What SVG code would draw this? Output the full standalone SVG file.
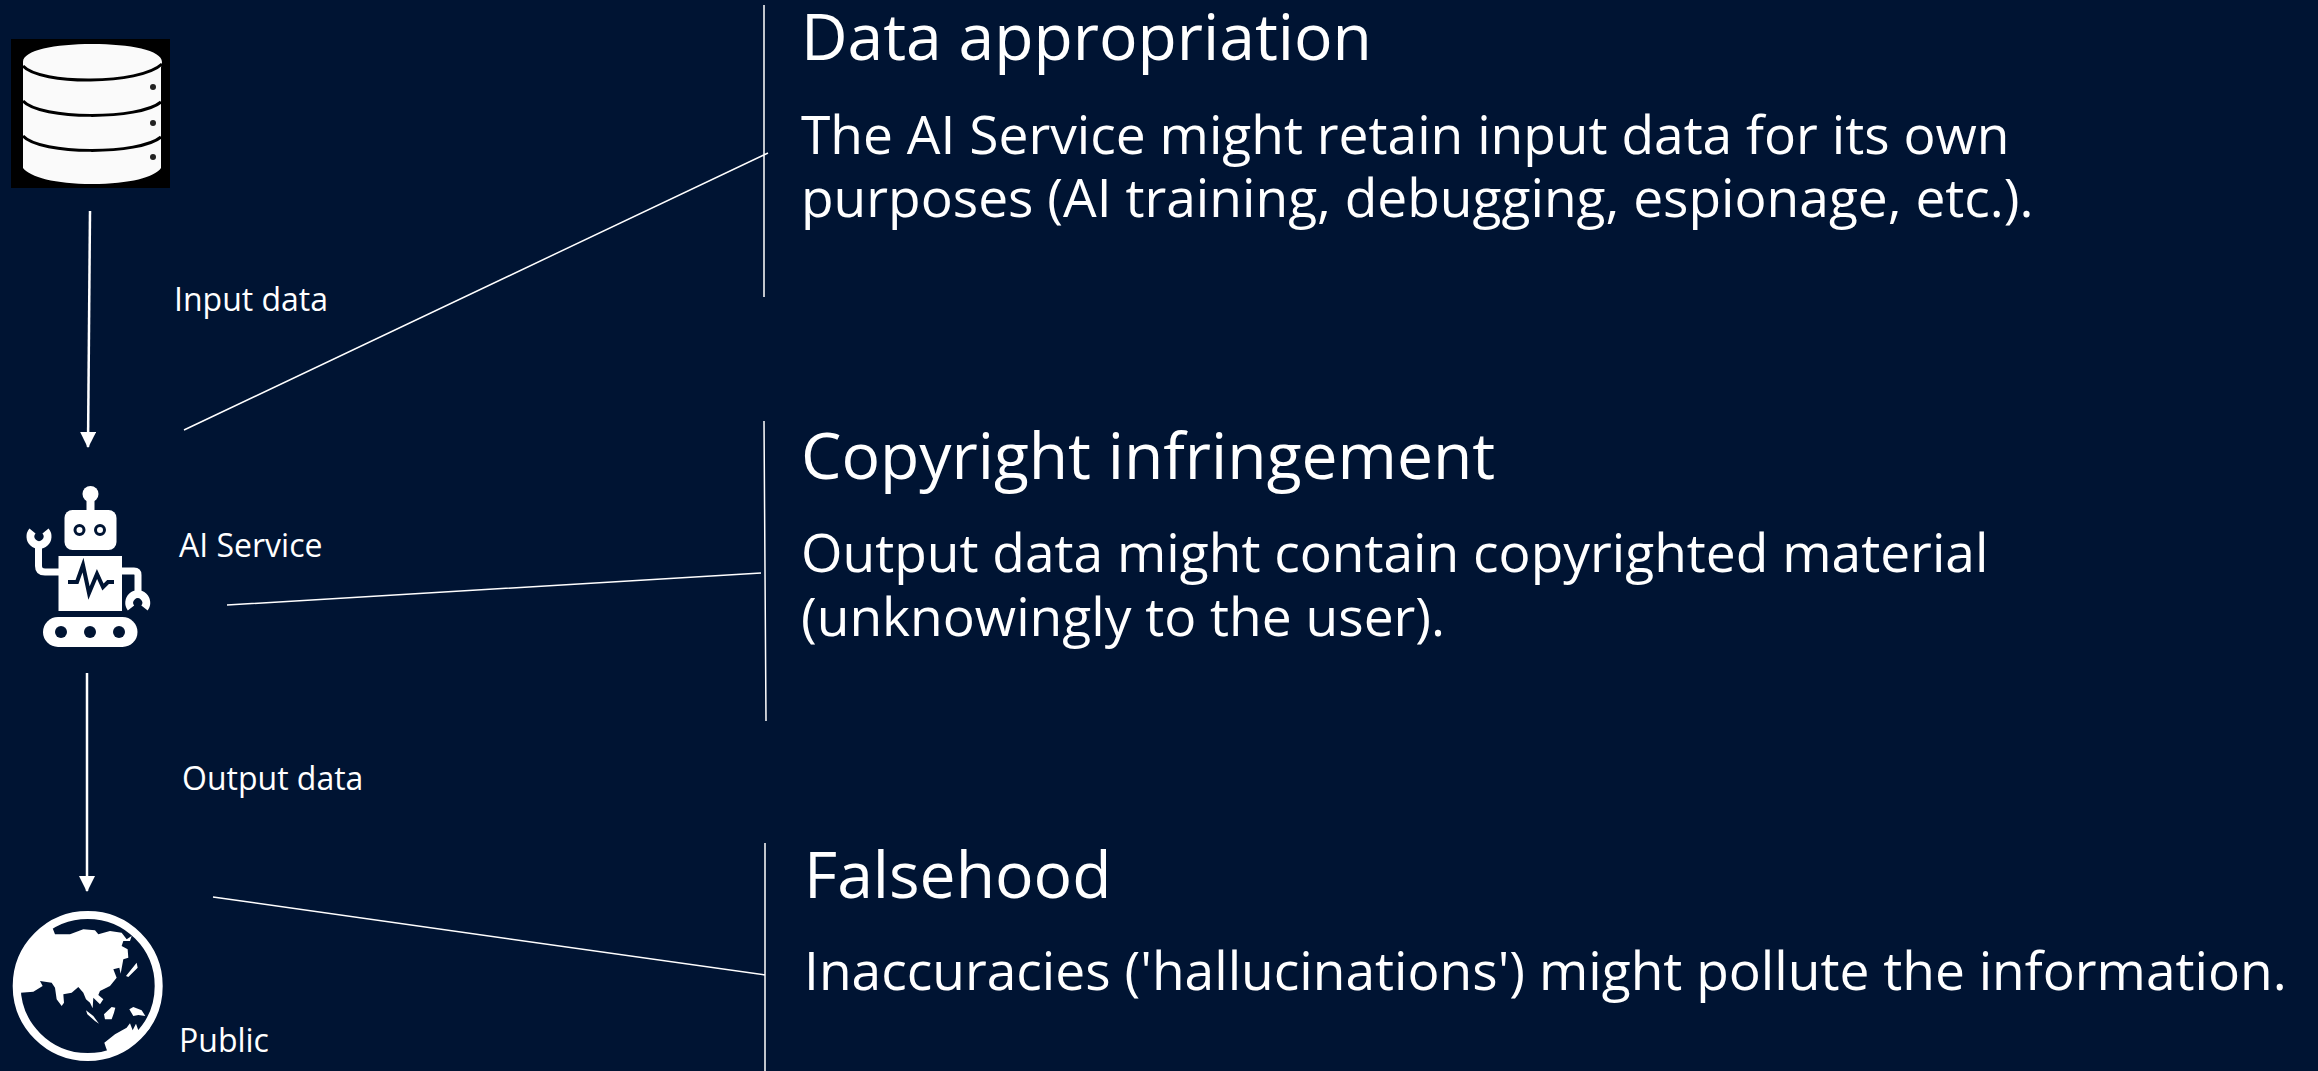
<svg xmlns="http://www.w3.org/2000/svg" width="2318" height="1071" viewBox="0 0 2318 1071">
<style>
text{font-family:"Open Sans","Noto Sans",sans-serif;fill:#fff}
.h{font-size:64.200px}
.b{font-size:53.300px}
.l{font-size:32px}
.c{stroke:#fff;stroke-width:1.500;fill:none}
.a{stroke:#fff;stroke-width:2.500;fill:none}
</style>
<defs><marker id="ah" markerUnits="userSpaceOnUse" markerWidth="16" markerHeight="16" refX="15" refY="8" orient="auto"><path d="M0 0L16 8L0 16Z" fill="#fff"/></marker></defs>
<rect width="2318" height="1071" fill="#001433"/>
<g id="database">
<rect x="11" y="39" width="159" height="149" fill="#000"/>
<path d="M23 62C23 50 55 44 92 44C130 44 162 50 162 62C162 64 161 66 161 68V168C155 177 130 184 92 184C55 184 30 177 23 168V68C23 66 23 64 23 62Z" fill="#fafafa"/>
<path d="M23 66C40 85 140 85 162 64M23 101C40 120 140 120 161 102M23 136C40 155 140 155 161 137" fill="none" stroke="#000" stroke-width="3"/>
<circle cx="153" cy="87" r="3" fill="#222"/><circle cx="153" cy="123" r="3" fill="#222"/><circle cx="153" cy="157" r="3" fill="#222"/>
</g>
<g id="robot" fill="#fff">
<circle cx="90.500" cy="494" r="8"/><rect x="86.500" y="498" width="8" height="14"/>
<rect x="64.500" y="510" width="52" height="40" rx="8"/>
<circle cx="79.500" cy="530" r="4.500" fill="none" stroke="#001433" stroke-width="3"/><circle cx="100" cy="530" r="4.500" fill="none" stroke="#001433" stroke-width="3"/>
<rect x="58.500" y="556" width="63.500" height="55"/>
<path d="M68 582H77L83 565 89 593 97 574 103 587 108 582H114" fill="none" stroke="#001433" stroke-width="4"/>
<path d="M38.500 543V566Q38.500 572 45 572H59" fill="none" stroke="#fff" stroke-width="7"/>
<path d="M121 571H134Q138 571 138 575V596" fill="none" stroke="#fff" stroke-width="7"/>
<path d="M32.500 531A8.500 8.500 0 1 0 45.500 531" fill="none" stroke="#fff" stroke-width="8"/>
<path d="M131 608A8.500 8.500 0 1 1 144.500 608" fill="none" stroke="#fff" stroke-width="8"/>
<rect x="43" y="617" width="94.500" height="30" rx="15"/>
<circle cx="61" cy="632" r="6" fill="#001433"/><circle cx="90" cy="632" r="6" fill="#001433"/><circle cx="119" cy="632" r="6" fill="#001433"/>
</g>
<g id="globe">
<circle cx="87.700" cy="986" r="71" fill="none" stroke="#fff" stroke-width="8"/>
<g transform="translate(0 871) scale(.3333)" fill="#fff">
<path d="M62 365L100 362 128 345 120 330 155 335 165 350 170 385 185 405 192 395 190 370 215 365 235 348 250 365 258 385 270 395 278 412 280 380 300 400 310 385 295 372 300 360 330 345 350 320 340 295 358 290 362 308 370 265 385 260 383 235 365 225 370 210 390 210 395 195 380 205 365 185 330 180 295 190 285 178 250 175 210 190 165 190 158 172 125 175 95 205 70 245 55 290 50 330 50 365Z"/>
<path d="M378 315L410 275 413 290 385 318ZM258 418L280 435 297 458 285 450 262 430ZM312 430L335 408 346 410 342 425 335 445 315 445ZM388 415L400 408 425 418 436 435 415 432 400 435ZM313 515L345 490 380 470 390 457 398 478 408 458 415 478 440 478 452 470 400 520 325 548 318 530Z"/>
</g>
</g>
<g id="connectors">
<path class="a" d="M90 211L88 447" marker-end="url(#ah)"/>
<path class="a" d="M87 673V891" marker-end="url(#ah)"/>
<path class="c" d="M184 430L768 153M227 605L761 573M213 897L765 975M764 5V297M764 421L766 721M765 843V1071"/>
</g>
<g id="labels">
<text class="l" x="174" y="311">Input data</text>
<text class="l" x="179" y="557">AI Service</text>
<text class="l" x="182" y="790">Output data</text>
<text class="l" x="179" y="1052">Public</text>
</g>
<g id="note1"><text class="h" x="801" y="60">Data appropriation</text>
<text class="b" x="801" y="154">The AI Service might retain input data for its own</text>
<text class="b" x="801" y="217">purposes (AI training, debugging, espionage, etc.).</text></g>
<g id="note2"><text class="h" x="801" y="479">Copyright infringement</text>
<text class="b" x="801" y="572">Output data might contain copyrighted material</text>
<text class="b" x="801" y="636">(unknowingly to the user).</text></g>
<g id="note3"><text class="h" x="804" y="898">Falsehood</text>
<text class="b" x="804" y="990">Inaccuracies ('hallucinations') might pollute the information.</text></g>
</svg>
